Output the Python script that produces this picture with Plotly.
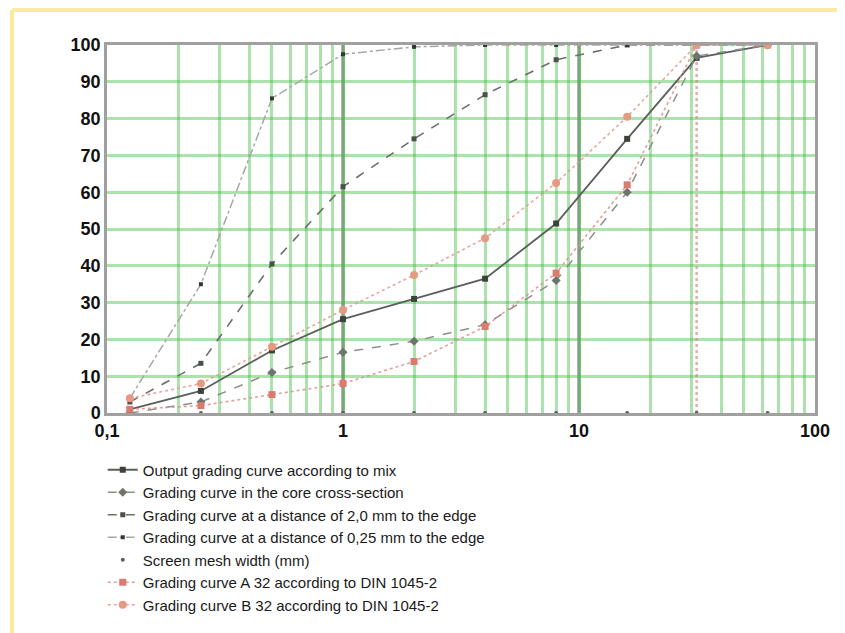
import plotly.graph_objects as go

# ---- data ----
sieve = [0.125, 0.25, 0.5, 1, 2, 4, 8, 16, 31.5, 63]
output_mix = [1, 6, 17, 25.5, 31, 36.5, 51.5, 74.5, 96.5, 100]
core = [0, 3, 11, 16.5, 19.5, 24, 36, 60, 97, 100]
edge_2_0 = [3, 13.5, 40.5, 61.5, 74.5, 86.5, 96, 100, 100, 100]
edge_0_25 = [4, 35, 85.5, 97.5, 99.5, 100, 100, 100, 100, 100]
mesh_y = [0, 0, 0, 0, 0, 0, 0, 0, 0, 0]
din_a32 = [1, 2, 5, 8, 14, 23.5, 38, 62, 100, 100]
din_b32 = [4, 8, 18, 28, 37.5, 47.5, 62.5, 80.5, 100, 100]
max_grain_x = [31.5, 31.5]
max_grain_y = [0, 100]

names = [
    "Output grading curve according to mix",
    "Grading curve in the core cross-section",
    "Grading curve at a distance of 2,0 mm to the edge",
    "Grading curve at a distance of 0,25 mm to the edge",
    "Screen mesh width (mm)",
    "Grading curve A 32 according to DIN 1045-2",
    "Grading curve B 32 according to DIN 1045-2",
]

x_tickvals = [0.1, 0.2, 0.3, 0.4, 0.5, 0.6, 0.7, 0.8, 0.9,
              1, 2, 3, 4, 5, 6, 7, 8, 9,
              10, 20, 30, 40, 50, 60, 70, 80, 90, 100]
x_ticktext = ["0,1"] + [""] * 8 + ["1"] + [""] * 8 + ["10"] + [""] * 8 + ["100"]
y_tickvals = [0, 10, 20, 30, 40, 50, 60, 70, 80, 90, 100]

fig = go.Figure()

fig.add_trace(go.Scatter(x=max_grain_x, y=max_grain_y, mode="lines",
                         line=dict(color="rgba(215,140,140,0.7)", width=2.5, dash="dot"),
                         showlegend=False, hoverinfo="skip"))

fig.add_trace(go.Scatter(x=sieve, y=output_mix, name=names[0], mode="lines+markers",
                         line=dict(color="#5a5f5a", width=1.8),
                         marker=dict(symbol="square", size=6, color="#3c423c")))
fig.add_trace(go.Scatter(x=sieve, y=core, name=names[1], mode="lines+markers",
                         line=dict(color="#8a8f8a", width=1.5, dash="dash"),
                         marker=dict(symbol="diamond", size=7, color="#6d746d")))
fig.add_trace(go.Scatter(x=sieve, y=edge_2_0, name=names[2], mode="lines+markers",
                         line=dict(color="#6a6f6a", width=1.6, dash="dash"),
                         marker=dict(symbol="square", size=5, color="#4a504a")))
fig.add_trace(go.Scatter(x=sieve, y=edge_0_25, name=names[3], mode="lines+markers",
                         line=dict(color="#a4a8a4", width=1.5, dash="dashdot"),
                         marker=dict(symbol="square", size=4, color="#333833")))
fig.add_trace(go.Scatter(x=sieve, y=mesh_y, name=names[4], mode="markers",
                         marker=dict(symbol="circle", size=4, color="#5a5f5a")))
fig.add_trace(go.Scatter(x=sieve, y=din_a32, name=names[5], mode="lines+markers",
                         line=dict(color="rgba(225,140,140,0.85)", width=1.6, dash="dot"),
                         marker=dict(symbol="square", size=7, color="#dc7a6e")))
fig.add_trace(go.Scatter(x=sieve, y=din_b32, name=names[6], mode="lines+markers",
                         line=dict(color="rgba(230,150,140,0.85)", width=1.6, dash="dot"),
                         marker=dict(symbol="circle", size=8, color="#e69a82")))

grid_green = "rgba(70,190,70,0.45)"
tick_font = dict(family="Liberation Sans, Arial, sans-serif", size=18, color="#111111", weight="bold")

fig.update_xaxes(type="log", range=[-1, 2], tickvals=x_tickvals, ticktext=x_ticktext,
                 showgrid=True, gridcolor=grid_green, gridwidth=2.5,
                 showline=True, linecolor="#a0a0a0", linewidth=2.5, mirror=True,
                 ticks="", tickfont=tick_font, zeroline=False)
fig.update_yaxes(range=[0, 100], tickvals=y_tickvals,
                 showgrid=True, gridcolor=grid_green, gridwidth=2.5,
                 showline=True, linecolor="#a0a0a0", linewidth=2.5, mirror=True,
                 ticks="", tickfont=tick_font, zeroline=False, ticklabelstandoff=0)

shapes = []
for v in [1, 10]:
    shapes.append(dict(type="line", xref="x", yref="paper", x0=v, x1=v, y0=0, y1=1,
                       line=dict(color="#9a9a9a", width=3.5), layer="between"))
# yellow frame
shapes.append(dict(type="line", xref="paper", yref="paper", x0=-0.1342, x1=1.06,
                   y0=1.0951, y1=1.0951, line=dict(color="#fde8a2", width=4)))
shapes.append(dict(type="line", xref="paper", yref="paper", x0=-0.1342, x1=-0.1342,
                   y0=1.0951, y1=-0.65, line=dict(color="#fde8a2", width=4)))

fig.update_layout(
    width=845, height=633,
    margin=dict(l=99, r=38, t=37, b=228, autoexpand=False),
    paper_bgcolor="white", plot_bgcolor="white",
    shapes=shapes,
    showlegend=True,
    legend=dict(x=-0.006, y=-0.11, xanchor="left", yanchor="top",
                font=dict(family="Liberation Sans, Arial, sans-serif",
                          size=15, color="#1a1a1a"),
                bgcolor="rgba(0,0,0,0)", itemwidth=30, tracegroupgap=0),
)

fig.write_html("out.html")
